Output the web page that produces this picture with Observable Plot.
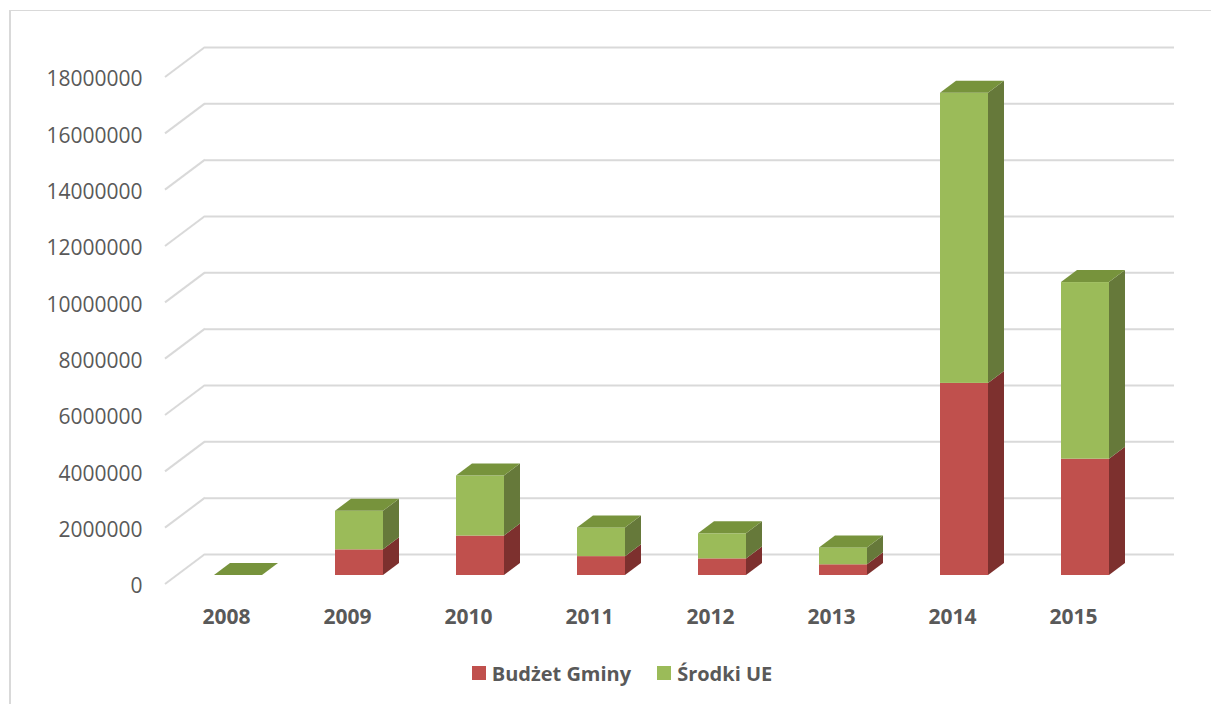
<!DOCTYPE html>
<html>
<head>
<meta charset="utf-8">
<script src="https://cdn.jsdelivr.net/npm/d3@7"></script>
<script src="https://cdn.jsdelivr.net/npm/@observablehq/plot@0.6"></script>
<style>
  html, body { margin: 0; padding: 0; background: #fff; overflow: hidden; }
  #wrap { position: relative; width: 1211px; height: 704px; }
  #frame { position: absolute; left: 9px; top: 10px; width: 1400px; height: 900px;
           border-left: 2px solid #d9d9d9; border-top: 1px solid #d9d9d9; pointer-events: none; }
  #legend { display: flex; justify-content: center; align-items: center; height: 42px;
            margin-left: 33px; font-family: "Open Sans", sans-serif; font-weight: bold;
            font-size: 20px; color: #595959; }
  #legend .item { display: flex; align-items: center; }
  #legend .sw { width: 14px; height: 14px; margin-right: 6px; }
  #legend .item + .item { margin-left: 26px; }
</style>
</head>
<body>
<div id="wrap">
  <div id="chart"></div>
  <div id="legend"></div>
  <div id="frame"></div>
</div>
<script>
// ---- data ----
const years = ["2008", "2009", "2010", "2011", "2012", "2013", "2014", "2015"];
const seriesNames = ["Budżet Gminy", "Środki UE"];
const budzetGminy = [0, 910000, 1400000, 670000, 590000, 380000, 6820000, 4130000];
const srodkiUE    = [0, 1370000, 2130000, 1020000, 890000, 600000, 10300000, 6270000];
const yTicks = [0, 2000000, 4000000, 6000000, 8000000, 10000000, 12000000, 14000000, 16000000, 18000000];

// ---- style ----
const frontColors = ["#C0504D", "#9BBB59"];
const sideColors  = ["#7D302E", "#66793A"];
const topColors   = ["#9A3F3C", "#77933C"];
const depthX = 16, depthY = 12;      // bar depth (oblique)
const backX = 28, backY = -21;        // back wall offset from bar plane
const frontX = -12, frontY = 9;       // floor front offset from bar plane
const gridColor = "#d9d9d9";
const textColor = "#595959";

const rows = [];
years.forEach((yr, i) => {
  rows.push({year: yr, series: seriesNames[0], value: budzetGminy[i]});
  rows.push({year: yr, series: seriesNames[1], value: srodkiUE[i]});
});

const W = 1211, H = 652;
const mLeft = 177, mRight = 65, mTop = 68, mBottom = 77;

// custom mark: left diagonal gridlines (floor-front -> back wall)
function diagonals(index, scales) {
  const y = scales.y;
  const g = d3.create("svg:g");
  for (const v of yTicks) {
    g.append("line")
      .attr("x1", mLeft + frontX).attr("y1", y(v) + frontY)
      .attr("x2", mLeft + backX).attr("y2", y(v) + backY)
      .attr("stroke", gridColor).attr("stroke-width", 2);
  }
  return g.node();
}

// custom mark: side & top faces of the 3D stacked bars
function faces(index, scales) {
  const x = scales.x, y = scales.y;
  const bw = x.bandwidth();
  const g = d3.create("svg:g");
  years.forEach((yr, i) => {
    const xl = x(yr), xr = xl + bw;
    const segs = [[0, budzetGminy[i]], [budzetGminy[i], budzetGminy[i] + srodkiUE[i]]];
    segs.forEach(([a, b], s) => {
      if (b - a <= 0) return;
      const ya = y(a), yb = y(b);
      g.append("polygon")
        .attr("points", [[xr, ya], [xr + depthX, ya - depthY], [xr + depthX, yb - depthY], [xr, yb]].join(" "))
        .attr("fill", sideColors[s]);
    });
    const total = budzetGminy[i] + srodkiUE[i];
    const topSeries = srodkiUE[i] > 0 || budzetGminy[i] === 0 ? 1 : 0;
    const yt = y(total);
    g.append("polygon")
      .attr("points", [[xl, yt], [xr, yt], [xr + depthX, yt - depthY], [xl + depthX, yt - depthY]].join(" "))
      .attr("fill", topColors[topSeries]);
  });
  return g.node();
}

const chart = Plot.plot({
  width: W,
  height: H,
  marginLeft: mLeft,
  marginRight: mRight,
  marginTop: mTop,
  marginBottom: mBottom,
  style: {background: "transparent", fontFamily: "'Open Sans', sans-serif"},
  x: {domain: years, paddingInner: 0.6, paddingOuter: 0.3, axis: null},
  y: {domain: [0, 18000000], axis: null},
  color: {domain: seriesNames, range: frontColors},
  marks: [
    // back wall gridlines
    Plot.ruleY(yTicks, {stroke: gridColor, strokeWidth: 2, dx: backX, dy: backY}),
    diagonals,
    // y tick labels (at floor-front plane)
    Plot.text(yTicks, {y: d => d, frameAnchor: "left", dx: -35, dy: 11, textAnchor: "end",
      text: d => String(d), fill: textColor, fontSize: 21}),
    // front faces
    Plot.barY(rows, {x: "year", y: "value", fill: "series", inset: 0}),
    faces,
    // x category labels
    Plot.text(years, {x: d => d, y: 0, dx: frontX, dy: 42, text: d => d,
      fill: textColor, fontSize: 21, fontWeight: "bold"})
  ]
});
document.getElementById("chart").appendChild(chart);

// legend
const legend = document.getElementById("legend");
seriesNames.forEach((name, i) => {
  const item = document.createElement("div");
  item.className = "item";
  const sw = document.createElement("div");
  sw.className = "sw";
  sw.style.background = frontColors[i];
  const label = document.createElement("span");
  label.textContent = name;
  item.appendChild(sw);
  item.appendChild(label);
  legend.appendChild(item);
});
</script>
</body>
</html>
